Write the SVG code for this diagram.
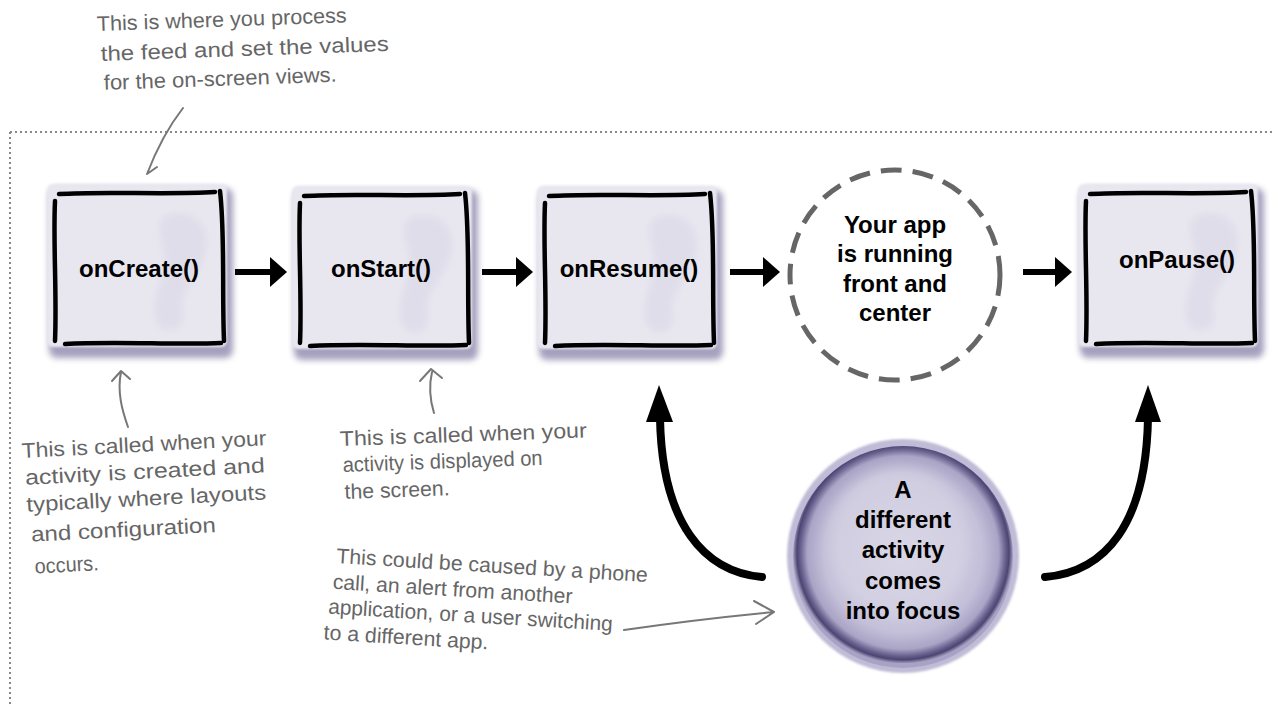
<svg xmlns="http://www.w3.org/2000/svg" xmlns:xlink="http://www.w3.org/1999/xlink" width="1278" height="704" viewBox="0 0 1278 704">
<defs>
<style>
.lbl{font-family:"Liberation Sans",Arial,sans-serif;font-weight:bold;font-size:24px;fill:#000;text-anchor:middle}
.note{font-family:"Liberation Sans Narrow","Liberation Sans",Arial,sans-serif;font-size:21px;fill:#666}
.ink{fill:none;stroke:#000;stroke-width:4.5;stroke-linecap:round;stroke-linejoin:round}
.grey{fill:none;stroke:#777;stroke-width:2;stroke-linecap:round;stroke-linejoin:round}
.blk{fill:none;stroke:#000;stroke-width:8;stroke-linecap:round}
</style>
<filter id="soft" x="-20%" y="-20%" width="140%" height="140%"><feGaussianBlur stdDeviation="3"/></filter>
<filter id="soft1" x="-20%" y="-20%" width="140%" height="140%"><feGaussianBlur stdDeviation="1.2"/></filter>
<filter id="soft6" x="-30%" y="-30%" width="160%" height="160%"><feGaussianBlur stdDeviation="6"/></filter>
<radialGradient id="disc" cx="50%" cy="48%" r="50%">
<stop offset="0" stop-color="#d6d3e5"/>
<stop offset="0.72" stop-color="#c4c0d9"/>
<stop offset="0.87" stop-color="#aaa4c6"/>
<stop offset="0.93" stop-color="#6a6390"/>
<stop offset="0.965" stop-color="#4c4572"/>
<stop offset="1" stop-color="#a8a3c4"/>
</radialGradient>
<g id="box">
<rect x="-6" y="-5" width="184" height="170" rx="8" fill="#7f78a2" opacity="0.7" filter="url(#soft)"/>
<rect x="-8" y="-9" width="180" height="163" rx="6" fill="#e8e7f0" filter="url(#soft1)"/>
<path d="M112 22 C140 14 158 34 150 62 C142 88 124 96 128 122 C130 140 104 144 100 124 C96 100 114 80 108 56 C104 40 100 28 112 22 Z" fill="#d8d6e4" opacity="0.55" filter="url(#soft)"/>
<path class="ink" d="M4 1 C50 -2 110 2 160 -1"/>
<path class="ink" d="M0 8 C-2 50 2 100 0 148"/>
<path class="ink" d="M165 -2 C170 40 167 100 169 148"/>
<path class="ink" d="M10 151 C60 148 120 152 166 150"/>
</g>
</defs>
<rect width="1278" height="704" fill="#fff"/>

<g id="frame">
<path d="M10 132 H1274 M10 132 V704" fill="none" stroke="#888" stroke-width="2" stroke-dasharray="2 3"/>
</g>

<g id="node-onCreate">
<use xlink:href="#box" x="55" y="193"/>
<text class="lbl" x="139" y="277">onCreate()</text>
</g>
<g id="node-onStart">
<use xlink:href="#box" x="300" y="195"/>
<text class="lbl" x="381" y="277">onStart()</text>
</g>
<g id="node-onResume">
<use xlink:href="#box" x="545" y="195"/>
<text class="lbl" x="629" y="277">onResume()</text>
</g>
<g id="node-onPause">
<use xlink:href="#box" x="1086" y="193"/>
<text class="lbl" x="1177" y="268">onPause()</text>
</g>

<g id="node-running">
<circle cx="895" cy="275" r="105" fill="#fff" stroke="#666" stroke-width="5" stroke-dasharray="21 11"/>
<text class="lbl" x="895" y="233">Your app</text>
<text class="lbl" x="895" y="262">is running</text>
<text class="lbl" x="895" y="292">front and</text>
<text class="lbl" x="895" y="321">center</text>
</g>

<g id="node-different">
<ellipse cx="903" cy="556" rx="116" ry="117" fill="#c0bbd6" filter="url(#soft1)"/>
<ellipse cx="903" cy="557" rx="110" ry="111" fill="url(#disc)"/>
<ellipse cx="900" cy="545" rx="70" ry="75" fill="#dcd9e8" opacity="0.5" filter="url(#soft6)"/>
<text class="lbl" x="903" y="498">A</text>
<text class="lbl" x="903" y="528">different</text>
<text class="lbl" x="903" y="558">activity</text>
<text class="lbl" x="903" y="589">comes</text>
<text class="lbl" x="903" y="619">into focus</text>
</g>

<g id="connectors">
<line x1="235" y1="272" x2="272" y2="272" stroke="#000" stroke-width="6"/>
<polygon points="270,257 287,272 270,287" fill="#000"/>
<line x1="482" y1="272" x2="518" y2="272" stroke="#000" stroke-width="6"/>
<polygon points="516,257 533,272 516,287" fill="#000"/>
<line x1="730" y1="272" x2="765" y2="272" stroke="#000" stroke-width="6"/>
<polygon points="763,257 780,272 763,287" fill="#000"/>
<line x1="1023" y1="272" x2="1057" y2="272" stroke="#000" stroke-width="6"/>
<polygon points="1055,257 1072,272 1055,287" fill="#000"/>
<path class="blk" d="M762 577 C705 572 662 525 660 418"/>
<polygon points="659,385 646,422 673,422" fill="#000"/>
<path class="blk" d="M1045 577 C1105 572 1146 525 1148 418"/>
<polygon points="1148,385 1135,422 1161,422" fill="#000"/>
</g>

<g id="notes">
<g id="note-top" transform="rotate(-2 97 31)">
<text class="note" x="97" y="31" textLength="250" lengthAdjust="spacingAndGlyphs">This is where you process</text>
<text class="note" x="100" y="61" textLength="288" lengthAdjust="spacingAndGlyphs">the feed and set the values</text>
<text class="note" x="102" y="90" textLength="233" lengthAdjust="spacingAndGlyphs">for the on-screen views.</text>
</g>
<path class="grey" d="M183 108 Q162 135 147 174 M147 174 L157 167"/>

<g id="note-create" transform="rotate(-3 22 458)">
<text class="note" x="22" y="458" textLength="245" lengthAdjust="spacingAndGlyphs">This is called when your</text>
<text class="note" x="24" y="485" textLength="240" lengthAdjust="spacingAndGlyphs">activity is created and</text>
<text class="note" x="24" y="512" textLength="240" lengthAdjust="spacingAndGlyphs">typically where layouts</text>
<text class="note" x="27" y="542" textLength="185" lengthAdjust="spacingAndGlyphs">and configuration</text>
<text class="note" x="29" y="574" textLength="64" lengthAdjust="spacingAndGlyphs">occurs.</text>
</g>
<path class="grey" d="M128 427 C122 410 117 392 121 372 M112 381 L121 371 L130 379"/>

<g id="note-start" transform="rotate(-2 340 446)">
<text class="note" x="340" y="446" textLength="247" lengthAdjust="spacingAndGlyphs">This is called when your</text>
<text class="note" x="342" y="472" textLength="200" lengthAdjust="spacingAndGlyphs">activity is displayed on</text>
<text class="note" x="343" y="499" textLength="105" lengthAdjust="spacingAndGlyphs">the screen.</text>
</g>
<path class="grey" d="M434 413 C430 400 429 385 432 372 M420 381 L431 369 L442 378"/>

<g id="note-focus" transform="rotate(3.5 336 563)">
<text class="note" x="336" y="563" textLength="312" lengthAdjust="spacingAndGlyphs">This could be caused by a phone</text>
<text class="note" x="334" y="589" textLength="240" lengthAdjust="spacingAndGlyphs">call, an alert from another</text>
<text class="note" x="331" y="614" textLength="285" lengthAdjust="spacingAndGlyphs">application, or a user switching</text>
<text class="note" x="328" y="640" textLength="165" lengthAdjust="spacingAndGlyphs">to a different app.</text>
</g>
<path class="grey" d="M624 630 Q700 619 774 612 M754 601 L774 612 L756 624"/>
</g>
</svg>
